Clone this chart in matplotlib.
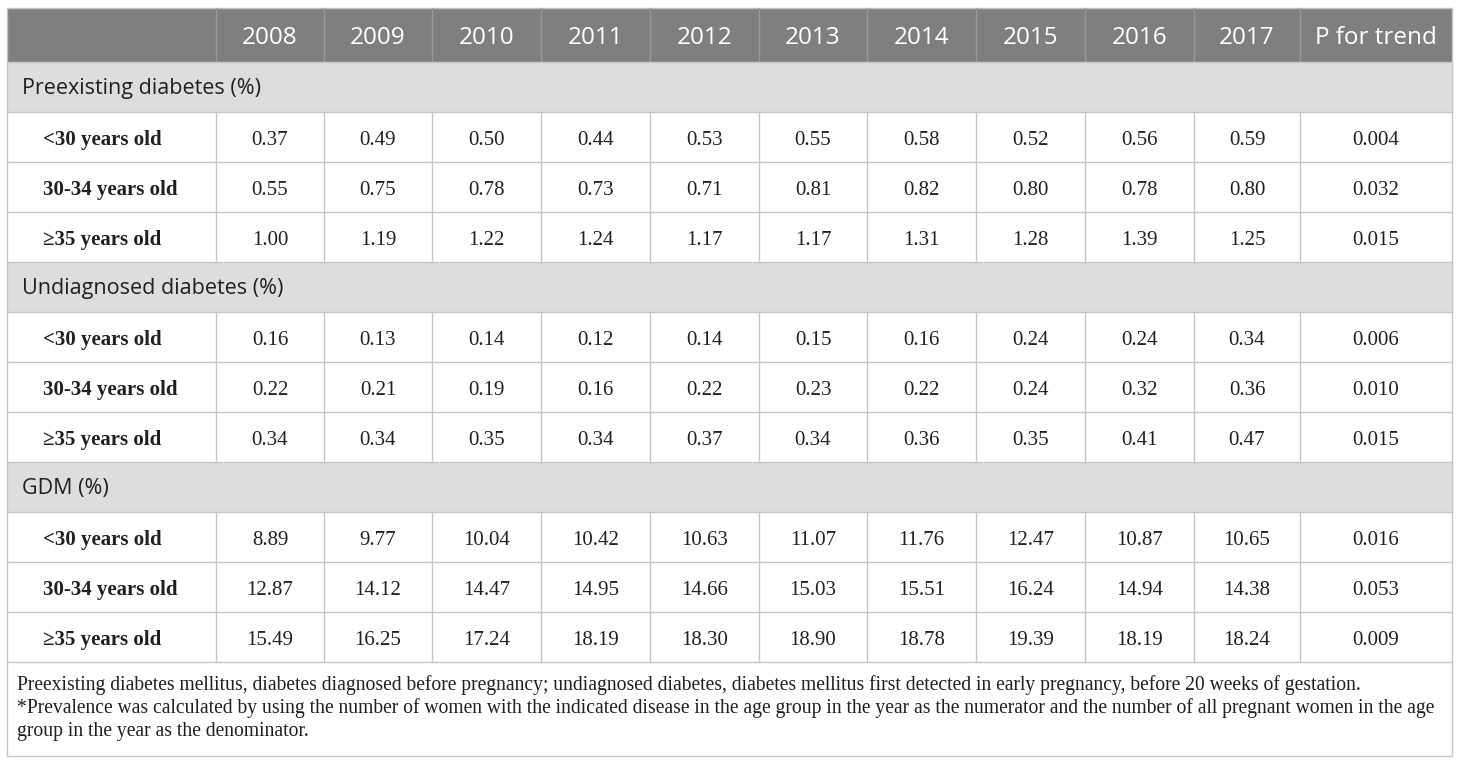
import matplotlib
matplotlib.use("Agg")
import matplotlib.pyplot as plt
from matplotlib.patches import Rectangle

years = ["2008", "2009", "2010", "2011", "2012", "2013", "2014", "2015", "2016", "2017"]
last_col = "P for trend"
sections = ["Preexisting diabetes (%)", "Undiagnosed diabetes (%)", "GDM (%)"]
age_groups = ["<30 years old", "30-34 years old", "≥35 years old"]

preexisting = [
    ["0.37", "0.49", "0.50", "0.44", "0.53", "0.55", "0.58", "0.52", "0.56", "0.59", "0.004"],
    ["0.55", "0.75", "0.78", "0.73", "0.71", "0.81", "0.82", "0.80", "0.78", "0.80", "0.032"],
    ["1.00", "1.19", "1.22", "1.24", "1.17", "1.17", "1.31", "1.28", "1.39", "1.25", "0.015"],
]
undiagnosed = [
    ["0.16", "0.13", "0.14", "0.12", "0.14", "0.15", "0.16", "0.24", "0.24", "0.34", "0.006"],
    ["0.22", "0.21", "0.19", "0.16", "0.22", "0.23", "0.22", "0.24", "0.32", "0.36", "0.010"],
    ["0.34", "0.34", "0.35", "0.34", "0.37", "0.34", "0.36", "0.35", "0.41", "0.47", "0.015"],
]
gdm = [
    ["8.89", "9.77", "10.04", "10.42", "10.63", "11.07", "11.76", "12.47", "10.87", "10.65", "0.016"],
    ["12.87", "14.12", "14.47", "14.95", "14.66", "15.03", "15.51", "16.24", "14.94", "14.38", "0.053"],
    ["15.49", "16.25", "17.24", "18.19", "18.30", "18.90", "18.78", "19.39", "18.19", "18.24", "0.009"],
]
footnote = [
    "Preexisting diabetes mellitus, diabetes diagnosed before pregnancy; undiagnosed diabetes, diabetes mellitus first detected in early pregnancy, before 20 weeks of gestation.",
    "*Prevalence was calculated by using the number of women with the indicated disease in the age group in the year as the numerator and the number of all pregnant women in the age",
    "group in the year as the denominator.",
]

# layout in pixels
W, H = 1460, 765
left, right = 7, 1452
top = 8
col_edges = [7, 216, 324, 432, 541, 650, 759, 867, 976, 1085, 1194, 1300, 1452]
head_h = 54
row_h = 50
foot_bottom = 756

header_bg = "#7f7f7f"
section_bg = "#dddddd"
line_col = "#c6c6c6"
text_col = "#231f20"

fig = plt.figure(figsize=(W / 100, H / 100), dpi=100)
ax = fig.add_axes([0, 0, 1, 1])
ax.set_xlim(0, W)
ax.set_ylim(H, 0)
ax.axis("off")

sans = "Open Sans"
serif = "Liberation Serif"

# header
ax.add_patch(Rectangle((left, top), right - left, head_h, facecolor=header_bg, edgecolor="none"))
for i, lab in enumerate(years + [last_col]):
    x0, x1 = col_edges[i + 1], col_edges[i + 2]
    ax.plot([x0, x0], [top, top + head_h], color="#9a9a9a", lw=1)
    ax.text((x0 + x1) / 2, top + 36, lab, color="white", fontsize=17.5,
            family=sans, ha="center", va="baseline")

y = top + head_h
for sec, block in zip(sections, [preexisting, undiagnosed, gdm]):
    ax.add_patch(Rectangle((left, y), right - left, row_h, facecolor=section_bg, edgecolor="none"))
    ax.text(22, y + 32, sec, color=text_col, fontsize=15.5, family=sans,
            ha="left", va="baseline")
    ax.plot([left, right], [y, y], color=line_col, lw=1)
    y += row_h
    for lab, vals in zip(age_groups, block):
        ax.plot([left, right], [y, y], color=line_col, lw=1)
        for e in col_edges[1:-1]:
            ax.plot([e, e], [y, y + row_h], color=line_col, lw=1)
        ax.text(43, y + 33, lab, color=text_col, fontsize=15, family=serif,
                weight="bold", ha="left", va="baseline")
        for j, v in enumerate(vals):
            ax.text((col_edges[j + 1] + col_edges[j + 2]) / 2, y + 33, v,
                    color=text_col, fontsize=15, family=serif, ha="center", va="baseline")
        y += row_h
ax.plot([left, right], [y, y], color=line_col, lw=1)

# footnote
for k, line in enumerate(footnote):
    ax.text(17, y + 28 + k * 23, line, color=text_col, fontsize=14.1, family=serif,
            ha="left", va="baseline")

# outer border
ax.add_patch(Rectangle((left, top), right - left, foot_bottom - top, facecolor="none",
                       edgecolor=line_col, lw=1))

fig.savefig("out.png", dpi=100, facecolor="white")
